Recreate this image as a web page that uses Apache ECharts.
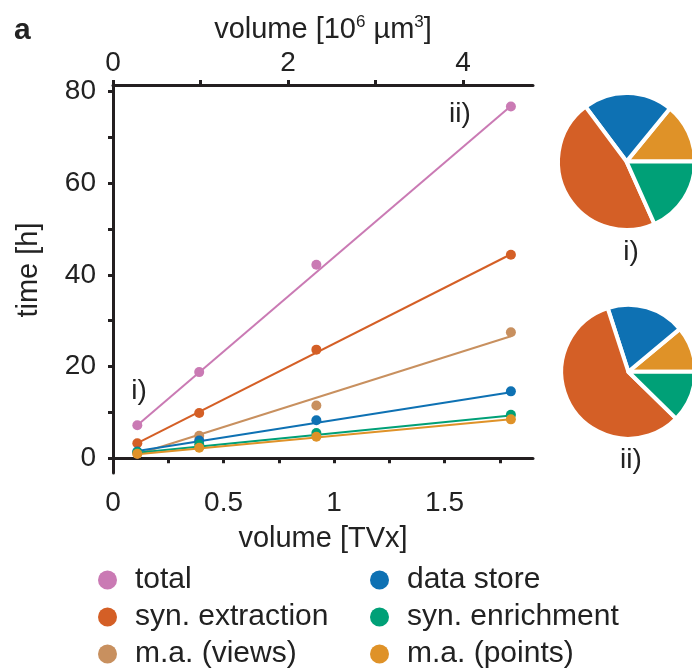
<!DOCTYPE html>
<html>
<head>
<meta charset="utf-8">
<script src="https://cdn.jsdelivr.net/npm/echarts@6/dist/echarts.min.js"></script>
<style>
  html, body { margin: 0; padding: 0; background: #fff; }
  #chart { width: 692px; height: 670px; }
</style>
</head>
<body>
<div id="chart"></div>
<script>
// measured volumes (bottom axis, TVx)
const volTVx = [0.11, 0.39, 0.92, 1.80]

// time [h] per component
const total = [7.2, 18.8, 42.2, 76.7]
const synExtraction = [3.3, 9.9, 23.7, 44.4]
const maViews = [1.0, 4.9, 11.5, 27.5]
const dataStore = [1.5, 3.9, 8.3, 14.6]
const synEnrichment = [1.3, 3.0, 5.5, 9.5]
const maPoints = [1.0, 2.3, 4.7, 8.5]

// linear fit lines, read at first and last volume
const fitStart = [7.2, 3.3, 0.9, 1.6, 1.2, 0.9]
const fitEnd = [76.8, 44.5, 26.6, 14.4, 9.35, 8.5]

const seriesNames = ['total', 'syn. extraction', 'm.a. (views)', 'data store', 'syn. enrichment', 'm.a. (points)']
const seriesValues = [total, synExtraction, maViews, dataStore, synEnrichment, maPoints]
const colors = ['#CA7AB4', '#D45F26', '#C8905F', '#0E71B3', '#00A077', '#DF9228']

// tick labels
const yTicks = [0, 10, 20, 30, 40, 50, 60, 70, 80]
const yLabels = [0, 20, 40, 60, 80]
const xTicks = [0, 0.25, 0.5, 0.75, 1, 1.25, 1.5, 1.75]
const xLabels = [0, 0.5, 1, 1.5]
const topTicks = [0, 1, 2, 3, 4]
const topLabels = [0, 2, 4]

// pie slices: gold, blue, orange, green (counter-clockwise from 3 o'clock)
const pieOrder = [5, 3, 1, 4]

const FONT = 'Liberation Sans, Arial, sans-serif'
const AXIS = '#231F20'

const chart = echarts.init(document.getElementById('chart'), null, { renderer: 'canvas' })

const axisCommon = {
  type: 'value',
  axisLine: { show: true, lineStyle: { color: AXIS, width: 3 } },
  axisTick: { show: true, length: 5, lineStyle: { color: AXIS, width: 3 } },
  splitLine: { show: false },
  axisLabel: { color: '#222', fontSize: 28, fontFamily: FONT },
  nameTextStyle: { color: '#222', fontSize: 29, fontFamily: FONT }
}

const scatterSeries = seriesNames.map((name, i) => ({
  name: name,
  type: 'scatter',
  xAxisIndex: 0,
  yAxisIndex: 0,
  symbol: 'circle',
  symbolSize: 10,
  z: 4,
  itemStyle: { color: colors[i], opacity: 1 },
  data: volTVx.map((x, k) => [x, seriesValues[i][k]])
}))

const fitSeries = seriesNames.map((name, i) => ({
  name: name,
  type: 'line',
  xAxisIndex: 0,
  yAxisIndex: 0,
  showSymbol: false,
  symbol: 'none',
  z: 3,
  lineStyle: { color: colors[i], width: 2 },
  itemStyle: { color: colors[i] },
  data: [[volTVx[0], fitStart[i]], [volTVx[volTVx.length - 1], fitEnd[i]]]
}))

function pieSeries(idx, center, radius) {
  return {
    type: 'pie',
    center: center,
    radius: radius,
    startAngle: 0,
    clockwise: false,
    silent: true,
    label: { show: false },
    labelLine: { show: false },
    itemStyle: { borderColor: '#fff', borderWidth: 4 },
    data: pieOrder.map(s => ({
      name: 'pie-' + s,
      value: seriesValues[s][idx],
      itemStyle: { color: colors[s] }
    }))
  }
}

const legendCommon = {
  orient: 'vertical',
  top: 565,
  padding: 0,
  itemWidth: 19,
  itemHeight: 19,
  itemGap: 7,
  icon: 'circle',
  selectedMode: false,
  itemStyle: { opacity: 1 },
  textStyle: { fontSize: 30, lineHeight: 30, color: '#222', fontFamily: FONT, padding: [0, 0, 0, 13] }
}

const option = {
  animation: false,
  backgroundColor: '#fff',
  textStyle: { fontFamily: FONT },
  grid: { left: 113, right: 159, top: 85, bottom: 197 },
  xAxis: [
    Object.assign({}, axisCommon, {
      position: 'bottom',
      min: 0,
      max: 1.9,
      name: 'volume [TVx]',
      nameLocation: 'middle',
      nameGap: 51,
      axisTick: Object.assign({}, axisCommon.axisTick, { customValues: xTicks }),
      axisLabel: Object.assign({}, axisCommon.axisLabel, { customValues: xLabels, margin: 16 })
    }),
    Object.assign({}, axisCommon, {
      position: 'top',
      min: 0,
      max: 4.8,
      name: 'volume [10{sup|6} µm{sup|3}]',
      nameLocation: 'middle',
      nameGap: 40,
      nameTextStyle: {
        color: '#222', fontSize: 29, fontFamily: FONT,
        rich: { sup: { fontSize: 17, verticalAlign: 'top', padding: [0, 0, 14, 0], color: '#222', fontFamily: FONT } }
      },
      axisTick: Object.assign({}, axisCommon.axisTick, { customValues: topTicks }),
      axisLabel: Object.assign({}, axisCommon.axisLabel, { customValues: topLabels, margin: 8 })
    })
  ],
  yAxis: [
    Object.assign({}, axisCommon, {
      min: -3.2,
      max: 81.4,
      name: 'time [h]',
      nameLocation: 'middle',
      nameGap: 70,
      nameTextStyle: { color: '#222', fontSize: 29, fontFamily: FONT, padding: [0, 0, 0, 18] },
      axisTick: Object.assign({}, axisCommon.axisTick, { customValues: yTicks }),
      axisLabel: Object.assign({}, axisCommon.axisLabel, { customValues: yLabels, margin: 17 })
    })
  ],
  legend: [
    Object.assign({}, legendCommon, { left: 98, data: seriesNames.slice(0, 3) }),
    Object.assign({}, legendCommon, { left: 370, data: seriesNames.slice(3) })
  ],
  graphic: [
    { type: 'text', left: 14, top: 16, style: { text: 'a', fontSize: 30, fontWeight: 'bold', fontFamily: FONT, fill: '#222' } },
    { type: 'text', x: 139, y: 391, style: { text: 'i)', fontSize: 28, fontFamily: FONT, fill: '#222', align: 'center', verticalAlign: 'middle' } },
    { type: 'text', x: 460, y: 114, style: { text: 'ii)', fontSize: 28, fontFamily: FONT, fill: '#222', align: 'center', verticalAlign: 'middle' } },
    { type: 'text', x: 631, y: 252, style: { text: 'i)', fontSize: 28, fontFamily: FONT, fill: '#222', align: 'center', verticalAlign: 'middle' } },
    { type: 'text', x: 631, y: 460, style: { text: 'ii)', fontSize: 28, fontFamily: FONT, fill: '#222', align: 'center', verticalAlign: 'middle' } }
  ],
  series: scatterSeries.concat(fitSeries, [
    pieSeries(0, [626.5, 161.5], 68.5),
    pieSeries(volTVx.length - 1, [628.3, 371.7], 67)
  ])
}

chart.setOption(option)
</script>
</body>
</html>
